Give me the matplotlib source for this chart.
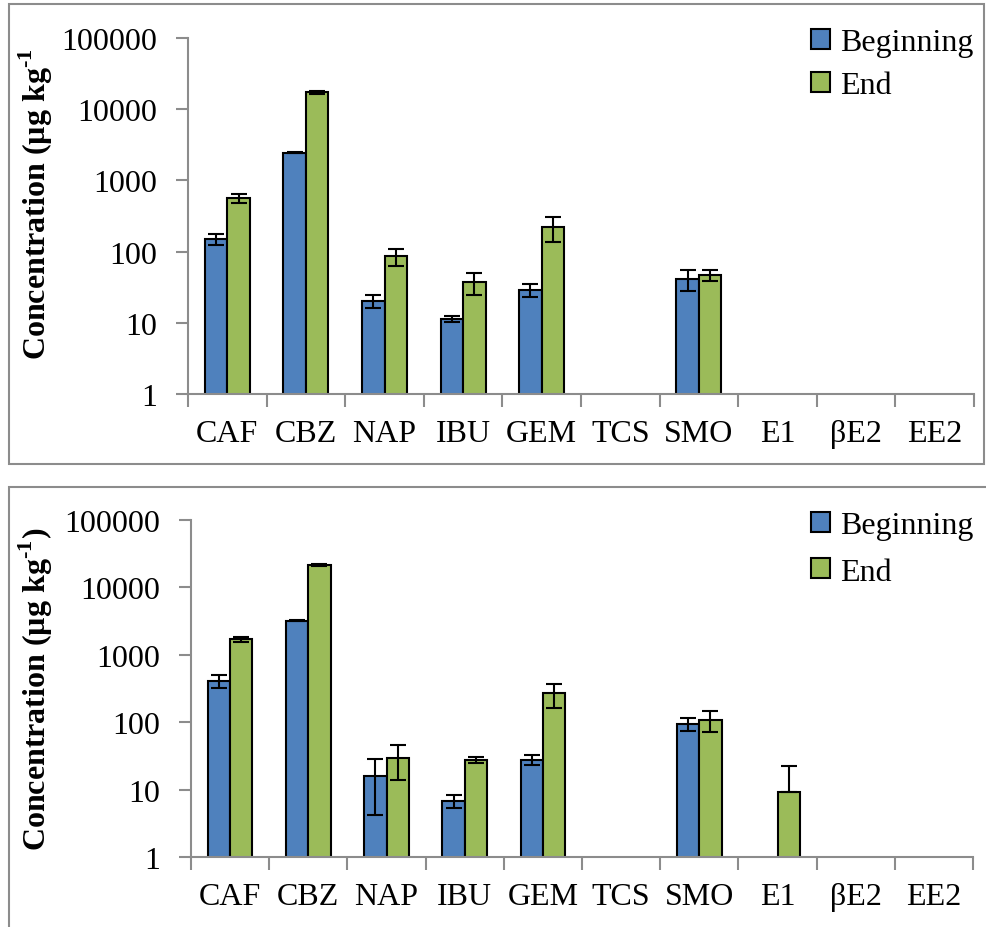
import numpy as np
import matplotlib
matplotlib.use("Agg")
import matplotlib.pyplot as plt
from matplotlib.patches import Patch, Rectangle

plt.rcParams['font.family'] = ['Liberation Serif', 'DejaVu Serif']
plt.rcParams['mathtext.fontset'] = 'custom'
plt.rcParams['mathtext.rm'] = 'Liberation Serif:bold'
plt.rcParams['mathtext.bf'] = 'Liberation Serif:bold'

compounds = ["CAF", "CBZ", "NAP", "IBU", "GEM", "TCS", "SMO", "E1", "βE2", "EE2"]

# first sampling campaign (µg/kg), NaN = not detected
top_begin = [150, 2450, 20.2, 11.3, 29.2, np.nan, 41.2, np.nan, np.nan, np.nan]
top_begin_sd = [28, 50, 4.2, 1.2, 6.2, np.nan, 13.5, np.nan, np.nan, np.nan]
top_end = [561, 17300, 86, 37.8, 219, np.nan, 46.9, np.nan, np.nan, np.nan]
top_end_sd = [82, 700, 23, 13, 83, np.nan, 8.3, np.nan, np.nan, np.nan]

# second sampling campaign
bot_begin = [409, 3205, 16.1, 6.8, 27.8, np.nan, 94, np.nan, np.nan, np.nan]
bot_begin_sd = [88, 60, 11.9, 1.4, 4.5, np.nan, 20, np.nan, np.nan, np.nan]
bot_end = [1698, 21500, 29.8, 27.5, 268, np.nan, 108, 9.3, np.nan, np.nan]
bot_end_sd = [130, 600, 15.7, 2.6, 105, np.nan, 37, 13.3, np.nan, np.nan]

BLUE = "#4F81BD"
GREEN = "#9BBB59"
AXGRAY = "#8C8C8C"
W, H = 986, 928
FS = 23


def err_pair(vals, sds):
    # excel drops the lower whisker when it would go below zero
    v = np.asarray(vals, float)
    s = np.asarray(sds, float)
    lo = np.where(s >= v, 0.0, s)
    return np.vstack([lo, s])


def draw_panel(ax, begin, begin_sd, end, end_sd):
    x = np.arange(len(compounds))
    bw = 0.286
    for vals, sds, col, off in [(begin, begin_sd, BLUE, -bw / 2),
                                (end, end_sd, GREEN, bw / 2)]:
        v = np.asarray(vals, float)
        ax.bar(x + off, v, bw, bottom=0, color=col, edgecolor="black",
               linewidth=1.5, zorder=2)
        ax.errorbar(x + off, v, yerr=err_pair(vals, sds), fmt="none",
                    ecolor="black", elinewidth=1.5, capsize=6,
                    capthick=1.5, zorder=3)
    ax.set_yscale("log")
    ax.set_ylim(1, 100000)
    ax.set_xlim(-0.5, len(compounds) - 0.5)
    ax.set_yticks([1, 10, 100, 1000, 10000, 100000])
    ax.set_yticklabels(["1", "10", "100", "1000", "10000", "100000"])
    ax.yaxis.set_minor_locator(matplotlib.ticker.NullLocator())
    ax.set_xticks(x)
    ax.set_xticklabels(compounds)
    ax.set_xticks(np.arange(-0.5, len(compounds)), minor=True)
    ax.tick_params(axis="x", which="major", length=0, pad=18, labelsize=FS)
    ax.tick_params(axis="x", which="minor", length=9, width=1.5,
                   color=AXGRAY, direction="out")
    ax.tick_params(axis="y", which="major", length=9, width=1.5,
                   color=AXGRAY, direction="out", pad=13, labelsize=FS)
    for side in ["top", "right"]:
        ax.spines[side].set_visible(False)
    for side in ["left", "bottom"]:
        ax.spines[side].set_color(AXGRAY)
        ax.spines[side].set_linewidth(1.5)


def add_legend(ax, x_px, y_px, spacing):
    handles = [Patch(facecolor=BLUE, edgecolor="black", linewidth=1.5),
               Patch(facecolor=GREEN, edgecolor="black", linewidth=1.5)]
    ax.legend(handles, ["Beginning", "End"], loc="upper left",
              bbox_to_anchor=(x_px / W, 1 - y_px / H),
              bbox_transform=fig.transFigure, frameon=False, fontsize=FS,
              handlelength=0.6, handleheight=0.6, handletextpad=0.3,
              labelspacing=spacing, borderpad=0, borderaxespad=0)


fig = plt.figure(figsize=(W / 100, H / 100), dpi=100)

ax1 = fig.add_axes([188 / W, 1 - 395 / H, 786 / W, 356 / H])
draw_panel(ax1, top_begin, top_begin_sd, top_end, top_end_sd)
add_legend(ax1, 811, 29, 0.45)

ax2 = fig.add_axes([191 / W, 1 - 858 / H, 782 / W, 337 / H])
draw_panel(ax2, bot_begin, bot_begin_sd, bot_end, bot_end_sd)
add_legend(ax2, 811, 512, 0.55)

fig.text(36 / W, 1 - 204 / H,
         "Concentration (µg kg$^{\u2010\\mathdefault{1}}$",
         rotation=90, ha="center", va="center", fontsize=FS,
         fontweight="bold")
fig.text(36 / W, 1 - 689 / H,
         "Concentration (µg kg$^{\u2010\\mathdefault{1}})$",
         rotation=90, ha="center", va="center", fontsize=FS,
         fontweight="bold")

# gray frames around each panel
fig.patches.append(Rectangle((9 / W, 1 - 465 / H), 975 / W, 460 / H,
                             transform=fig.transFigure, fill=False,
                             edgecolor="#8C8C8C", linewidth=1.5))
fig.patches.append(Rectangle((9 / W, 1 - 940 / H), 990 / W, 452 / H,
                             transform=fig.transFigure, fill=False,
                             edgecolor="#8C8C8C", linewidth=1.5))

fig.savefig("out.png", dpi=100)
